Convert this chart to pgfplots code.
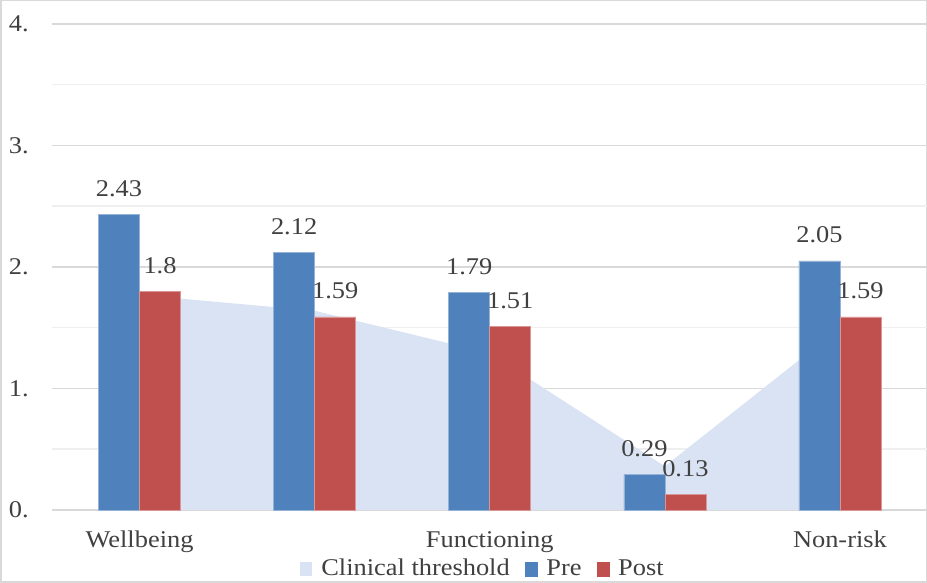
\documentclass[border=0pt]{standalone}
\usepackage{pgfplots}
\pgfplotsset{compat=1.18}
\usepackage{fontspec}
\setmainfont{Liberation Serif}[FakeStretch=1.1]
\definecolor{preblue}{HTML}{4F81BD}
\definecolor{postred}{HTML}{C0504D}
\definecolor{areablue}{HTML}{DAE3F3}
\definecolor{txt}{HTML}{404040}
\definecolor{gridmaj}{HTML}{D9D9D9}
\definecolor{gridmin}{HTML}{EFEFEF}
\begin{document}
\fontsize{24}{28}\selectfont
\begin{tikzpicture}[x=1pt,y=1pt]
\draw[gridmaj, line width=1.5pt] (0.75,0.75) rectangle (926.25,582.25);
\useasboundingbox (0,0) rectangle (927,583);
\begin{axis}[
 at={(52pt,73pt)}, anchor=south west,
 scale only axis, width=875.5pt, height=486pt,
 xmin=0.5, xmax=5.5, ymin=0, ymax=4,
 xtick={1,3,5}, xticklabels={Wellbeing,Functioning,Non-risk},
 ytick={0,1,2,3,4}, yticklabels={0.,1.,2.,3.,4.},
 minor ytick={0.5,1.5,2.5,3.5},
 ymajorgrids, yminorgrids,
 major grid style={gridmaj, line width=1.5pt},
 minor grid style={gridmin, line width=1.5pt},
 axis line style={draw=none},
 major tick length=0pt, minor tick length=0pt,
 /pgf/number format/assume math mode=true,
 tick label style={font=\fontsize{24}{28}\selectfont, text=txt},
 yticklabel style={anchor=east, inner sep=0pt, xshift=-23pt},
 xticklabel style={anchor=base, inner sep=0pt, yshift=-38pt},
 legend columns=3,
 legend style={at={(0.4923,-0.1214)}, anchor=center, draw=none, fill=none,
   font=\fontsize{24}{28}\selectfont, text=txt,
   /tikz/every odd column/.append style={column sep=7pt},
   /tikz/every even column/.append style={column sep=13pt}},
 nodes near coords style={font=\fontsize{24}{28}\selectfont, text=txt, anchor=base, inner sep=0pt, yshift=18pt},
 clip=false,
]
\addplot[fill=areablue, draw=none,
  legend image code/.code={\fill[areablue] (0pt,-7pt) rectangle (12pt,7pt);}]
  coordinates {(1,1.77)(2,1.64)(3,1.29)(4,0.36)(5,1.50)} \closedcycle;
\addlegendentry{Clinical threshold}
\addplot[ybar, bar width=41pt, bar shift=-20.5pt, fill=preblue, draw=preblue!60!white, line width=0.6pt,
  nodes near coords, every node near coord/.append style={xshift=-20.5pt},
  legend image code/.code={\fill[preblue] (0pt,-7pt) rectangle (12pt,7pt);}]
  coordinates {(1,2.43)(2,2.12)(3,1.79)(4,0.29)(5,2.05)};
\addlegendentry{Pre}
\addplot[ybar, bar width=41pt, bar shift=20.5pt, fill=postred, draw=postred!60!white, line width=0.6pt,
  nodes near coords, every node near coord/.append style={xshift=20.5pt},
  legend image code/.code={\fill[postred] (0pt,-7pt) rectangle (12pt,7pt);}]
  coordinates {(1,1.8)(2,1.59)(3,1.51)(4,0.13)(5,1.59)};
\addlegendentry{Post}
\end{axis}
\end{tikzpicture}
\end{document}
